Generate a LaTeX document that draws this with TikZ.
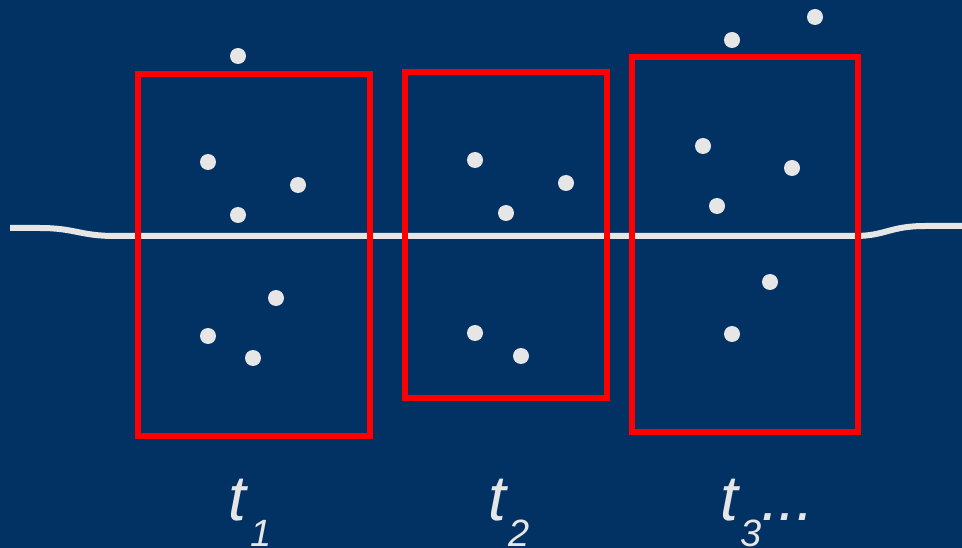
\documentclass[tikz,border=0pt]{standalone}
\usepackage{fontspec}
\setmainfont{Liberation Sans}
\definecolor{bg}{RGB}{2,50,100}
\definecolor{dotc}{RGB}{230,230,230}
\definecolor{boxred}{RGB}{255,0,0}
\begin{document}
\begin{tikzpicture}[x=1pt,y=-1pt,
  pt/.style={circle,fill=dotc,minimum size=16pt,inner sep=0pt},
  frame/.style={draw=boxred,line width=5.5pt},
  tlab/.style={text=dotc,font=\fontsize{64}{64}\selectfont\itshape,anchor=base west,inner sep=0pt},
  slab/.style={text=dotc,font=\fontsize{38}{38}\selectfont\itshape,anchor=base west,inner sep=0pt}]
\fill[bg] (0,0) rectangle (962,548);
\useasboundingbox (0,0) rectangle (962,548);
% line
\draw[dotc,line width=6pt] (10,228) -- (40,228) .. controls (75,228) and (80,236) .. (115,236) -- (855,236) .. controls (885,236) and (890,226) .. (925,226) -- (962,226);
% boxes
\draw[frame] (138,74) rectangle (370,436);
\draw[frame] (405,72) rectangle (607,398);
\draw[frame] (632,57) rectangle (858,432);
% dots
\foreach \x/\y [count=\i] in {238/56,208/162,298/185,238/215,276/298,208/336,253/358,
  475/160,566/183,506/213,475/333,521/356,
  732/40,815/17,703/146,792/168,717/206,770/282,732/334}
  \node[pt] (d\i) at (\x,\y) {};
% labels
\node[tlab] (t1) at (228,520) {t};
\node[slab] (s1) at (250,546) {1};
\node[tlab] (t2) at (488,520) {t};
\node[slab] (s2) at (508,546) {2};
\node[tlab] (t3) at (720,520) {t};
\node[slab] (s3) at (740,546) {3};
\node[tlab] (dots) at (761,520) {...};
\end{tikzpicture}
\end{document}
